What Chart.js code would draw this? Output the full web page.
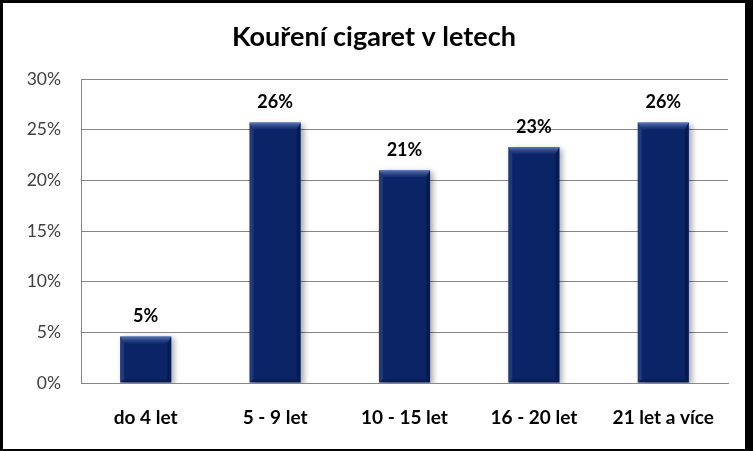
<!DOCTYPE html>
<html>
<head>
<meta charset="utf-8">
<script src="https://cdn.jsdelivr.net/npm/chart.js@4/dist/chart.umd.min.js"></script>
<style>
  html, body { margin: 0; padding: 0; background: #000; }
  #frame { position: absolute; left: 0; top: 0; width: 753px; height: 451px; background: #000; }
  #wrap { position: absolute; left: 3px; top: 3px; width: 742px; height: 446px; background: #fff; }
</style>
</head>
<body>
<div id="frame"><div id="wrap"><canvas id="c"></canvas></div></div>
<script>
const categories = ['do 4 let', '5 - 9 let', '10 - 15 let', '16 - 20 let', '21 let a více'];
const values = [4.6, 25.7, 21.0, 23.3, 25.7];
const yTicks = [0, 5, 10, 15, 20, 25, 30];
const titleText = 'Kouření cigaret v letech';

const FONT = "Lato, 'Open Sans', 'DejaVu Sans', sans-serif";

const barStyle = {
  id: 'barStyle',
  beforeDatasetDraw(chart) {
    const ctx = chart.ctx;
    ctx.save();
    ctx.shadowColor = 'rgba(0,0,0,0.35)';
    ctx.shadowBlur = 6;
    ctx.shadowOffsetX = 3;
    ctx.shadowOffsetY = 2;
  },
  afterDatasetDraw(chart) {
    chart.ctx.restore();
    const ctx = chart.ctx;
    const meta = chart.getDatasetMeta(0);
    meta.data.forEach((bar, i) => {
      const left = bar.x - bar.width / 2;
      const right = bar.x + bar.width / 2;
      const top = bar.y;
      const bottom = bar.base;
      const h = bottom - top;
      const bev = Math.min(7, h / 2);
      ctx.save();
      let g = ctx.createLinearGradient(0, top, 0, top + bev);
      g.addColorStop(0, 'rgba(120,150,210,0.75)');
      g.addColorStop(1, 'rgba(60,90,160,0.15)');
      ctx.fillStyle = g;
      ctx.beginPath();
      ctx.moveTo(left, top);
      ctx.lineTo(right, top);
      ctx.lineTo(right - 4, top + bev);
      ctx.lineTo(left + 4, top + bev);
      ctx.closePath();
      ctx.fill();
      ctx.fillStyle = 'rgba(90,120,190,0.25)';
      ctx.beginPath();
      ctx.moveTo(left, top);
      ctx.lineTo(left + 4, top + bev);
      ctx.lineTo(left + 4, bottom - 3);
      ctx.lineTo(left, bottom);
      ctx.closePath();
      ctx.fill();
      ctx.fillStyle = 'rgba(0,0,20,0.25)';
      ctx.beginPath();
      ctx.moveTo(right, top);
      ctx.lineTo(right - 4, top + bev);
      ctx.lineTo(right - 4, bottom - 3);
      ctx.lineTo(right, bottom);
      ctx.closePath();
      ctx.fill();
      ctx.fillStyle = 'rgba(0,0,20,0.2)';
      ctx.beginPath();
      ctx.moveTo(left, bottom);
      ctx.lineTo(left + 4, bottom - 3);
      ctx.lineTo(right - 4, bottom - 3);
      ctx.lineTo(right, bottom);
      ctx.closePath();
      ctx.fill();
      ctx.restore();
    });
  },
  afterDatasetsDraw(chart) {
    const ctx = chart.ctx;
    const meta = chart.getDatasetMeta(0);
    ctx.save();
    ctx.font = 'bold 18px ' + FONT;
    ctx.fillStyle = '#000';
    ctx.textAlign = 'center';
    ctx.textBaseline = 'middle';
    meta.data.forEach((bar, i) => {
      ctx.fillText(Math.round(values[i]) + '%', bar.x, bar.y - 20);
    });
    ctx.restore();
  }
};

new Chart(document.getElementById('c'), {
  type: 'bar',
  data: {
    labels: categories,
    datasets: [{
      data: values,
      backgroundColor: '#0B2466',
      borderWidth: 0,
      categoryPercentage: 1.0,
      barPercentage: 0.395
    }]
  },
  plugins: [barStyle],
  options: {
    responsive: true,
    maintainAspectRatio: false,
    animation: false,
    devicePixelRatio: 1,
    layout: { padding: { left: 0, right: 0, top: 0, bottom: 0 } },
    plugins: {
      legend: { display: false },
      tooltip: { enabled: false },
      title: {
        display: true,
        text: titleText,
        color: '#000',
        font: { family: FONT, size: 27, weight: 'bold', lineHeight: 1.2 },
        padding: { top: 18.3, bottom: 25.3 }
      }
    },
    scales: {
      x: {
        grid: { display: false, drawTicks: false },
        border: { display: true, color: '#868686', width: 1 },
        ticks: {
          color: '#000',
          font: { family: FONT, size: 19, weight: 'bold' },
          padding: 23.6,
          maxRotation: 0,
          autoSkip: false
        },
        afterFit(scale) { scale.height = 66; }
      },
      y: {
        min: 0,
        max: 30,
        afterBuildTicks(scale) { scale.ticks = yTicks.map(v => ({ value: v })); },
        grid: { color: '#868686', drawTicks: false, lineWidth: 1 },
        border: { display: true, color: '#868686', width: 1 },
        ticks: {
          color: '#404040',
          font: { family: FONT, size: 17.5 },
          padding: 20,
          callback: v => v + '%'
        },
        afterFit(scale) { scale.width = 78; }
      },
      yRight: {
        position: 'right',
        display: true,
        grid: { display: false, drawTicks: false },
        border: { display: false },
        ticks: { display: false },
        afterFit(scale) { scale.width = 17; }
      }
    }
  }
});
</script>
</body>
</html>
